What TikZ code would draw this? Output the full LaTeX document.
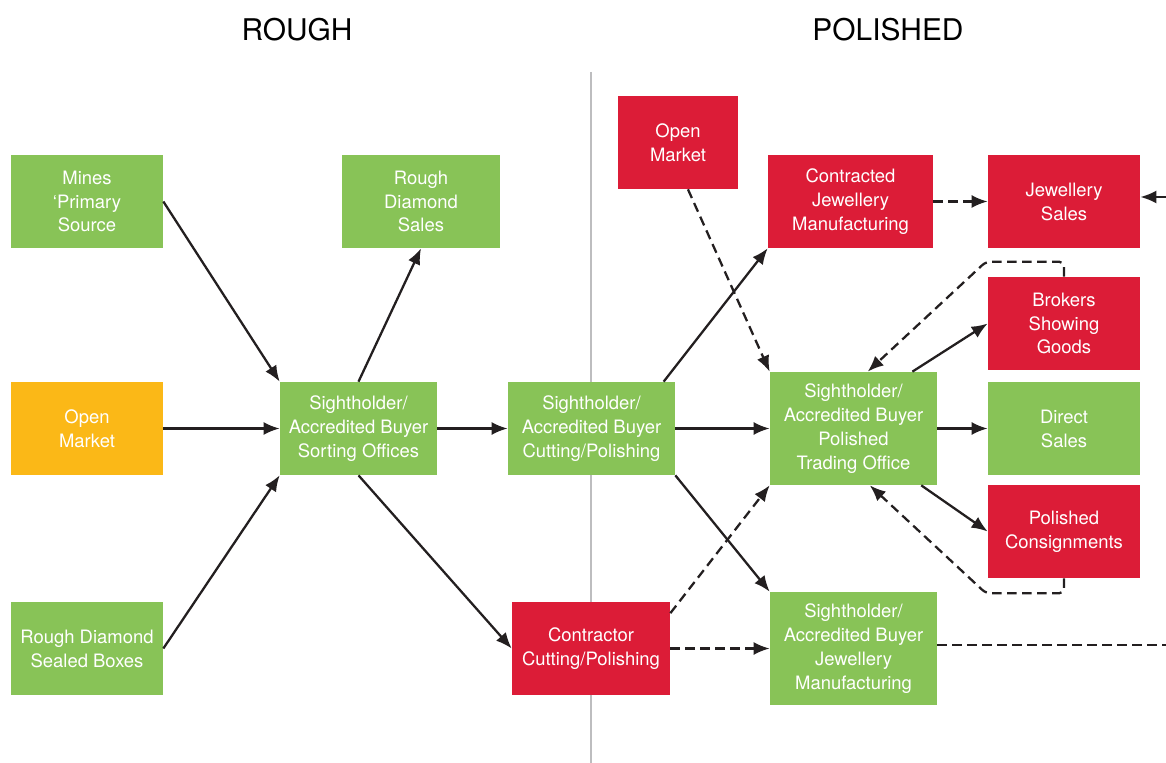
\documentclass[tikz,border=0pt]{standalone}
\usepackage{fontspec}
\setmainfont{TeX Gyre Heros}
\usepackage{xcolor}
\usepackage{tikz}
\usetikzlibrary{
    arrows.meta,
    positioning
}
\definecolor{diagreen}{HTML}{88C357}
\definecolor{diared}{HTML}{DC1C37}
\definecolor{diayellow}{HTML}{FBB817}
\definecolor{dialine}{HTML}{231F20}
\definecolor{divgray}{HTML}{BDBDBF}

\begin{document}
\begin{tikzpicture}[
    x=0.02cm,
    y=-0.02cm,
    box/.style={
        minimum height=18.6mm,
        minimum width=30.4mm,
        inner sep=0pt,
        align=center,
        text=white,
        font=\fontsize{10.5}{13.6}\selectfont
    },
    greenbox/.style={
        box,
        fill=diagreen
    },
    redbox/.style={
        box,
        fill=diared
    },
    arrow/.style={
        -{Latex[length=3.2mm,width=2.6mm]},
        line width=1.3pt,
        draw=dialine
    },
    dasharrow/.style={
        arrow,
        dash pattern=on 1.9mm off 1.1mm
    },
    dashline/.style={
        line width=1.3pt,
        draw=dialine,
        dash pattern=on 1.9mm off 1.1mm
    },
    title/.style={
        font=\fontsize{17}{20}\selectfont
    }
]
\useasboundingbox (0,0) rectangle (1166,763);

\coordinate (divtop) at (591,72);
\coordinate (divbot) at (591,763);
\draw[divgray, line width=1.6pt] (divtop) -- (divbot);

\node[title] (rough) at (297,30) {ROUGH};
\node[title] (polished) at (888,30) {POLISHED};

\node[greenbox] (mines) at (87,201.5) {Mines\\‘Primary\\Source};
\node[greenbox, fill=diayellow] (openrough) at (87,428.5) {Open\\Market};
\node[greenbox] (roughboxes) at (87,648.5) {Rough Diamond\\Sealed Boxes};

\node[greenbox, minimum width=31.6mm] (roughsales) at (421,201.5) {Rough\\Diamond\\Sales};
\node[greenbox, minimum width=31.4mm] (sorting) at (358.5,428.5)
    {Sightholder/\\Accredited Buyer\\Sorting Offices};

\node[greenbox, minimum width=33.4mm] (cutting) at (591.5,428.5)
    {Sightholder/\\Accredited Buyer\\Cutting/Polishing};
\node[redbox, minimum width=31.6mm] (contractor) at (591,648.5)
    {Contractor\\Cutting/Polishing};

\node[redbox, minimum width=24mm] (openpol) at (678,142.5) {Open\\Market};
\node[redbox, minimum width=33mm] (contracted) at (850.5,201.5)
    {Contracted\\Jewellery\\Manufacturing};
\node[greenbox, minimum width=33.4mm, minimum height=22.6mm] (trading) at (853.5,428.5)
    {Sightholder/\\Accredited Buyer\\Polished\\Trading Office};
\node[greenbox, minimum width=33.4mm, minimum height=22.6mm] (jewmanu) at (853.5,648.5)
    {Sightholder/\\Accredited Buyer\\Jewellery\\Manufacturing};

\node[redbox] (jewsales) at (1064,201.5) {Jewellery\\Sales};
\node[redbox] (brokers) at (1064,323.5) {Brokers\\Showing\\Goods};
\node[greenbox] (direct) at (1064,428.5) {Direct\\Sales};
\node[redbox] (consign) at (1064,531.5) {Polished\\Consignments};

\coordinate (jewin) at (1166,197);
\coordinate (jewout) at (1166,645);

\draw[arrow] (mines.east) -- (sorting.north west);
\draw[arrow] (openrough) -- (sorting);
\draw[arrow] (roughboxes.east) -- (sorting.south west);
\draw[arrow] (sorting.north) -- (roughsales.south);
\draw[arrow] (sorting) -- (cutting);
\draw[arrow] (sorting.south) -- (contractor.west);

\draw[arrow] (cutting.33) -- (contracted.south west);
\draw[arrow] (cutting) -- (trading);
\draw[arrow] (cutting.south east) -- (jewmanu.north west);

\draw[dasharrow] (contractor.24) -- (trading.south west);
\draw[dasharrow] (contractor.east |- jewmanu.west) -- (jewmanu.west);
\draw[dasharrow] (openpol.-78) -- (trading.north west);
\draw[dasharrow] (contracted) -- (jewsales);
\draw[arrow] (jewin) -- (jewsales.east |- jewin);
\draw[dashline] (jewmanu.east |- jewout) -- (jewout);

\draw[arrow] (trading.44) -- (brokers.west);
\draw[arrow] (trading) -- (direct);
\draw[arrow] (trading.-40) -- (consign.west);

\draw[dasharrow, rounded corners=1mm] (brokers.north) -- ++(0,-15) -- ++(-78,0) -- (trading.76);
\draw[dasharrow, rounded corners=1mm] (consign.south) -- ++(0,15) -- ++(-78,0) -- (trading.-74);

\end{tikzpicture}
\end{document}
